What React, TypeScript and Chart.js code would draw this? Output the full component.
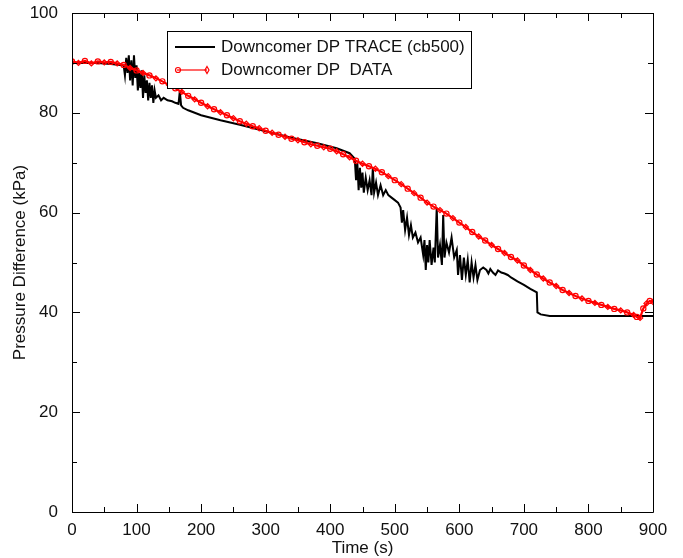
import React, { useEffect, useRef } from "react";
import { Chart, registerables } from "chart.js";

Chart.register(...registerables);

// TRACE (cb500) calculation: time (s) and pressure difference (kPa)
const traceTime = [
  0, 20, 40, 60, 75, 80, 82, 84, 86, 88, 90, 92, 94, 96, 98, 100, 102, 104, 106, 108,
  110, 112, 114, 116, 118, 120, 122, 124, 126, 128, 130, 134, 138, 142, 148, 155, 160, 165, 167, 169,
  172, 180, 200, 230, 260, 300, 340, 380, 410, 430, 438, 440, 442, 444, 446, 448, 450, 452, 455, 458,
  461, 464, 466, 468, 471, 474, 478, 482, 486, 490, 495, 500, 505, 509, 511, 513, 516, 519, 522, 525,
  528, 532, 536, 540, 544, 546, 548, 550, 552, 554, 557, 560, 562, 565, 567, 570, 573, 575, 577, 580,
  584, 588, 592, 596, 598, 601, 604, 607, 610, 613, 616, 619, 622, 625, 628, 632, 637, 642, 645, 648,
  652, 656, 660, 665, 670, 675, 680, 690, 700, 710, 720, 721, 726, 740, 800, 900,
];
const traceDP = [
  90.0, 90.0, 90.0, 89.8, 89.6, 89.5, 87.5, 91.0, 88.0, 91.5, 86.5, 90.5, 85.5, 91.5, 87.0, 89.5, 84.5, 88.0, 85.0, 88.5,
  83.0, 87.5, 84.0, 86.5, 82.5, 86.0, 83.0, 85.5, 82.0, 84.5, 83.0, 83.5, 82.5, 83.0, 82.5, 82.3, 82.0, 81.8, 84.3, 81.5,
  81.0, 80.5, 79.5, 78.5, 77.6, 76.3, 75.0, 73.9, 72.9, 71.9, 70.8, 66.5, 70.0, 64.5, 69.0, 65.0, 68.0, 64.0, 67.0, 64.5,
  66.5, 63.5, 69.0, 64.0, 66.0, 63.5, 65.5, 63.5, 64.5, 63.5, 63.0, 62.5, 62.0, 61.0, 58.0, 60.5, 56.5, 59.0, 55.5, 57.5,
  55.0, 56.0, 54.0, 55.0, 51.5, 54.5, 48.5, 53.5, 50.0, 54.5, 49.5, 53.0, 50.0, 61.0, 51.0, 53.5, 49.5, 59.5, 51.0, 54.0,
  52.0, 55.0, 51.0, 52.5, 47.5, 51.5, 46.5, 51.0, 47.5, 50.5, 46.0, 50.0, 47.0, 49.5, 46.5, 48.5, 49.0, 48.5, 47.8, 48.7,
  48.0, 47.5, 48.4, 48.0, 47.8, 47.5, 47.0, 46.2, 45.5, 44.7, 44.0, 40.0, 39.6, 39.3, 39.3, 39.3,
];

// Measured data: time (s) and pressure difference (kPa)
const dataTime = [
  0, 10, 20, 30, 40, 50, 60, 70, 80, 90, 100, 110, 120, 130, 140, 150, 160, 170, 180, 190,
  200, 210, 220, 230, 240, 250, 260, 270, 280, 290, 300, 310, 320, 330, 340, 350, 360, 370, 380, 390,
  400, 410, 420, 430, 440, 450, 460, 470, 480, 490, 500, 510, 520, 530, 540, 550, 560, 570, 580, 590,
  600, 610, 620, 630, 640, 650, 660, 670, 680, 690, 700, 710, 720, 730, 740, 750, 760, 770, 780, 790,
  800, 810, 820, 830, 840, 850, 860, 870, 875, 880, 885, 890, 895, 900,
];
const dataDP = [
  90.3, 90.0, 90.4, 89.9, 90.3, 90.1, 90.2, 89.9, 89.6, 89.0, 88.5, 88.0, 87.5, 86.9, 86.3, 85.6, 84.9, 84.2, 83.4, 82.7,
  82.0, 81.3, 80.7, 80.1, 79.5, 78.9, 78.3, 77.8, 77.3, 76.9, 76.4, 76.0, 75.6, 75.2, 74.8, 74.5, 74.1, 73.7, 73.4, 73.1,
  72.8, 72.3, 71.7, 71.1, 70.4, 69.8, 69.3, 68.8, 68.1, 67.3, 66.5, 65.7, 64.8, 63.9, 63.0, 62.0, 61.2, 60.5, 59.8, 58.9,
  58.0, 57.1, 56.1, 55.2, 54.4, 53.5, 52.7, 51.9, 51.1, 50.4, 49.4, 48.5, 47.6, 46.8, 46.0, 45.3, 44.5, 43.9, 43.3, 42.8,
  42.3, 41.9, 41.5, 41.1, 40.7, 40.4, 40.0, 39.5, 39.1, 38.9, 40.8, 41.8, 42.3, 42.1,
];

const xMajorTicks = [0, 100, 200, 300, 400, 500, 600, 700, 800, 900];
const xMinorTicks = [50, 150, 250, 350, 450, 550, 650, 750, 850];
const yMajorTicks = [0, 20, 40, 60, 80, 100];
const yMinorTicks = [10, 30, 50, 70, 90];

const traceLabel = "Downcomer DP TRACE (cb500)";
const dataLabel = "Downcomer DP  DATA";
const xTitle = "Time (s)";
const yTitle = "Pressure Difference (kPa)";

const FONT = "'Liberation Sans', Arial, Helvetica, sans-serif";

const frameTicksPlugin = {
  id: "frameTicks",
  afterDatasetsDraw(chart: any) {
    const { ctx, chartArea, scales } = chart;
    const { left, right, top, bottom } = chartArea;
    const x = scales.x;
    const y = scales.y;
    ctx.save();
    ctx.strokeStyle = "#000";
    ctx.lineWidth = 1;
    ctx.beginPath();
    ctx.rect(Math.round(left) + 0.5, Math.round(top) + 0.5, Math.round(right - left), Math.round(bottom - top));
    ctx.stroke();
    const drawX = (vals: number[], len: number) => {
      vals.forEach((v) => {
        const px = Math.round(x.getPixelForValue(v)) + 0.5;
        ctx.beginPath();
        ctx.moveTo(px, bottom);
        ctx.lineTo(px, bottom - len);
        ctx.moveTo(px, top);
        ctx.lineTo(px, top + len);
        ctx.stroke();
      });
    };
    const drawY = (vals: number[], len: number) => {
      vals.forEach((v) => {
        const py = Math.round(y.getPixelForValue(v)) + 0.5;
        ctx.beginPath();
        ctx.moveTo(left, py);
        ctx.lineTo(left + len, py);
        ctx.moveTo(right, py);
        ctx.lineTo(right - len, py);
        ctx.stroke();
      });
    };
    drawX(xMajorTicks, 8);
    drawX(xMinorTicks, 5);
    drawY(yMajorTicks, 8);
    drawY(yMinorTicks, 5);
    ctx.restore();
  },
  afterDraw(chart: any) {
    const { ctx } = chart;
    ctx.save();
    const bx = 167.5, by = 31.5, bw = 304, bh = 57;
    ctx.fillStyle = "#fff";
    ctx.fillRect(bx, by, bw, bh);
    ctx.strokeStyle = "#000";
    ctx.lineWidth = 1;
    ctx.strokeRect(bx, by, bw, bh);
    ctx.strokeStyle = "#000";
    ctx.lineWidth = 2;
    ctx.beginPath();
    ctx.moveTo(175, 47);
    ctx.lineTo(215, 47);
    ctx.stroke();
    ctx.fillStyle = "#111";
    ctx.font = `17px ${FONT}`;
    ctx.textBaseline = "middle";
    ctx.textAlign = "left";
    ctx.fillText(traceLabel, 221, 47);
    ctx.strokeStyle = "#ff0000";
    ctx.lineWidth = 1.2;
    ctx.beginPath();
    ctx.moveTo(177, 70);
    ctx.lineTo(207, 70);
    ctx.stroke();
    ctx.beginPath();
    ctx.arc(178, 70, 2.5, 0, Math.PI * 2);
    ctx.stroke();
    ctx.beginPath();
    ctx.moveTo(207, 66.5);
    ctx.lineTo(209, 70);
    ctx.lineTo(207, 73.5);
    ctx.lineTo(205, 70);
    ctx.closePath();
    ctx.stroke();
    ctx.fillStyle = "#111";
    ctx.fillText(dataLabel, 221, 70);
    ctx.restore();
  },
};

export default function App() {
  const canvasRef = useRef<HTMLCanvasElement | null>(null);

  useEffect(() => {
    const canvas = canvasRef.current;
    if (!canvas) return;
    const chart = new Chart(canvas, {
      type: "line",
      data: {
        datasets: [
          {
            label: traceLabel,
            data: traceTime.map((t, i) => ({ x: t, y: traceDP[i] })),
            borderColor: "#000",
            borderWidth: 2,
            pointRadius: 0,
            tension: 0,
            order: 2,
          },
          {
            label: dataLabel,
            data: dataTime.map((t, i) => ({ x: t, y: dataDP[i] })),
            borderColor: "#ff0000",
            borderWidth: 2.2,
            pointRadius: 2.6,
            pointStyle: (c: any) => (c.dataIndex % 2 ? "rectRot" : "circle"),
            pointBorderColor: "#ff0000",
            pointBackgroundColor: "rgba(255,255,255,0)",
            pointBorderWidth: 1.2,
            tension: 0,
            order: 1,
          },
        ],
      },
      options: {
        responsive: false,
        animation: false,
        layout: { padding: { left: 8, right: 30, top: 13, bottom: 0 } },
        plugins: {
          legend: { display: false },
          tooltip: { enabled: false },
        },
        scales: {
          x: {
            type: "linear",
            min: 0,
            max: 900,
            grid: { display: false },
            border: { display: false },
            afterFit: (s: any) => {
              s.height = 46;
              s.paddingLeft = 0;
              s.paddingRight = 0;
            },
            afterBuildTicks: (s: any) => {
              s.ticks = xMajorTicks.map((v) => ({ value: v }));
            },
            ticks: {
              color: "#111",
              font: { family: FONT, size: 17 },
              padding: 0,
              maxRotation: 0,
              autoSkip: false,
            },
            title: {
              display: true,
              text: xTitle,
              color: "#111",
              font: { family: FONT, size: 17 },
              padding: { top: 0, bottom: -1 },
            },
          },
          y: {
            type: "linear",
            min: 0,
            max: 100,
            grid: { display: false },
            border: { display: false },
            afterFit: (s: any) => {
              s.width = 64;
              s.paddingTop = 0;
              s.paddingBottom = 0;
            },
            afterBuildTicks: (s: any) => {
              s.ticks = yMajorTicks.map((v) => ({ value: v }));
            },
            ticks: {
              color: "#111",
              font: { family: FONT, size: 17 },
              padding: 6,
              autoSkip: false,
            },
            title: {
              display: true,
              text: yTitle,
              color: "#111",
              font: { family: FONT, size: 17 },
              padding: { top: 2, bottom: 0 },
            },
          },
        },
      },
      plugins: [frameTicksPlugin],
    });
    return () => chart.destroy();
  }, []);

  return (
    <div style={{ position: "fixed", left: 0, top: 0, width: 683, height: 558, background: "#fff" }}>
      <canvas ref={canvasRef} width={683} height={558} />
    </div>
  );
}
